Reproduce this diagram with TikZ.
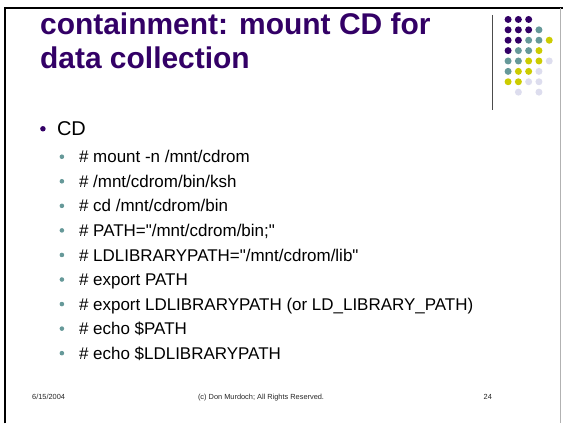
\documentclass[tikz,border=0pt]{standalone}
\usepackage{fontspec}
\setmainfont{Liberation Sans}
\usetikzlibrary{positioning}

\definecolor{slidepurple}{HTML}{330066}
\definecolor{slideteal}{HTML}{669999}
\definecolor{slideyellow}{HTML}{CCCC00}
\definecolor{slidelilac}{HTML}{DDDDEE}

\tikzset{
  titletext/.style={anchor=north west,align=left,inner sep=0pt,text=slidepurple,
    font=\fontsize{30}{34}\selectfont\bfseries},
  bulletone/.style={circle,fill=slidepurple,inner sep=0pt,minimum size=5.5pt},
  bullettwo/.style={circle,fill=slideteal,inner sep=0pt,minimum size=4.6pt},
  itemone/.style={anchor=west,inner sep=0pt,font=\fontsize{20}{24}\selectfont,
    text height=14.3pt,text depth=0pt},
  itemtwo/.style={anchor=west,inner sep=0pt,font=\fontsize{17}{20}\selectfont,
    text height=12.2pt,text depth=0pt},
  footer/.style={inner sep=0pt,text=black!85,font=\fontsize{7.4}{9}\selectfont}
}

\begin{document}
\begin{tikzpicture}[x=1pt,y=-1pt,node distance=24.6pt]
      \fill[white] (0,0) rectangle (564,424);
      %% Title
      \node[titletext] (title) at (40,13) {containment: mount CD for\\data collection};
      %% Logo
      \draw[black!70,line width=1pt] (493,15) -- (493,110);
      \foreach \c/\r/\col in {0/0/slidepurple,1/0/slidepurple,2/0/slidepurple,
          0/1/slidepurple,1/1/slidepurple,2/1/slidepurple,3/1/slideteal,
          0/2/slidepurple,1/2/slidepurple,2/2/slideteal,3/2/slideteal,4/2/slideyellow,
          0/3/slidepurple,1/3/slideteal,2/3/slideteal,3/3/slideyellow,
          0/4/slideteal,1/4/slideteal,2/4/slideyellow,3/4/slideyellow,4/4/slidelilac,
          0/5/slideteal,1/5/slideyellow,2/5/slideyellow,3/5/slidelilac,
          0/6/slideyellow,1/6/slideyellow,2/6/slidelilac,3/6/slidelilac,
          1/7/slidelilac,3/7/slidelilac}
        \fill[\col] (509+10.3*\c,19.5+10.4*\r) circle (3.5pt);
      %% First level
      \node[bulletone] (b0) at (43,129) {};
      \node[itemone,right=11pt of b0] (t0) {CD};
      %% Second level
      \node[bullettwo] (b1) at (62,157) {};
      \node[bullettwo,below of=b1] (b2) {};
      \node[bullettwo,below of=b2] (b3) {};
      \node[bullettwo,below of=b3] (b4) {};
      \node[bullettwo,below of=b4] (b5) {};
      \node[bullettwo,below of=b5] (b6) {};
      \node[bullettwo,below of=b6] (b7) {};
      \node[bullettwo,below of=b7] (b8) {};
      \node[bullettwo,below of=b8] (b9) {};
      \node[itemtwo,right=14.5pt of b1] (t1) {\# mount -n /mnt/cdrom};
      \node[itemtwo,right=14.5pt of b2] (t2) {\# /mnt/cdrom/bin/ksh};
      \node[itemtwo,right=14.5pt of b3] (t3) {\# cd /mnt/cdrom/bin};
      \node[itemtwo,right=14.5pt of b4] (t4) {\# PATH=\textquotedbl/mnt/cdrom/bin;\textquotedbl};
      \node[itemtwo,right=14.5pt of b5] (t5) {\# LDLIBRARYPATH=\textquotedbl/mnt/cdrom/lib\textquotedbl};
      \node[itemtwo,right=14.5pt of b6] (t6) {\# export PATH};
      \node[itemtwo,right=14.5pt of b7] (t7) {\# export LDLIBRARYPATH (or LD\_LIBRARY\_PATH)};
      \node[itemtwo,right=14.5pt of b8] (t8) {\# echo \$PATH};
      \node[itemtwo,right=14.5pt of b9] (t9) {\# echo \$LDLIBRARYPATH};
      %% Footer
      \node[footer,anchor=west] (date) at (32,398) {6/15/2004};
      \node[footer] (owner) at (261.5,398) {(c) Don Murdoch; All Rights Reserved.};
      \node[footer,anchor=east] (page) at (493,398) {24};
      %% Slide frame
      \draw[black,line width=2pt] (5,424) -- (5,8) -- (564,8);
      \draw[gray!60,line width=0.8pt] (561.5,8) -- (561.5,424);
      \useasboundingbox (0,0) rectangle (564,424);
    \end{tikzpicture}
\end{document}
